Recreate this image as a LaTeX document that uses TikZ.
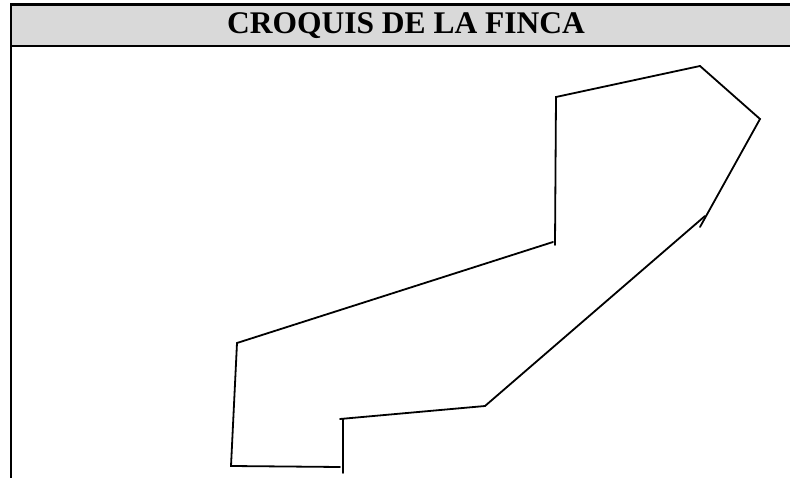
\documentclass[tikz,border=0pt]{standalone}
\usepackage{fontspec}
\setmainfont{Liberation Serif}
\definecolor{headgray}{HTML}{D9D9D9}
\begin{document}
\begin{tikzpicture}[x=1pt,y=-1pt,
  border/.style={line width=2.4pt,black},
  edge/.style={line width=1.8pt,black,line cap=round},
  title/.style={font=\bfseries\fontsize{31.5}{36}\selectfont,inner sep=0pt,anchor=base}]
\useasboundingbox (0,0) rectangle (790,478);
% header
\fill[headgray] (11,4.5) rectangle (792,46);
\draw[border] (11,4.5) -- (792,4.5);
\draw[border] (11,46) -- (792,46);
\draw[border] (11,3.3) -- (11,480);
\node[title] (t) at (406,34) {CROQUIS DE LA FINCA};
% sketch points
\coordinate (p1) at (556,97);
\coordinate (p2) at (700,66);
\coordinate (p3) at (760,119);
\coordinate (p4a) at (700,227);
\coordinate (p4b) at (705,216);
\coordinate (p5a) at (555,245);
\coordinate (p5b) at (553,242);
\coordinate (p6) at (237,343);
\coordinate (p7) at (231,466);
\coordinate (p8) at (340,467);
\coordinate (p9a) at (343,473);
\coordinate (p9b) at (343,419);
\coordinate (p10) at (340,419);
\coordinate (p11) at (485,406);
\draw[edge] (p5a) -- (p1) -- (p2) -- (p3) -- (p4a);
\draw[edge] (p5b) -- (p6) -- (p7) -- (p8);
\draw[edge] (p9a) -- (p9b);
\draw[edge] (p10) -- (p11) -- (p4b);
\end{tikzpicture}
\end{document}
